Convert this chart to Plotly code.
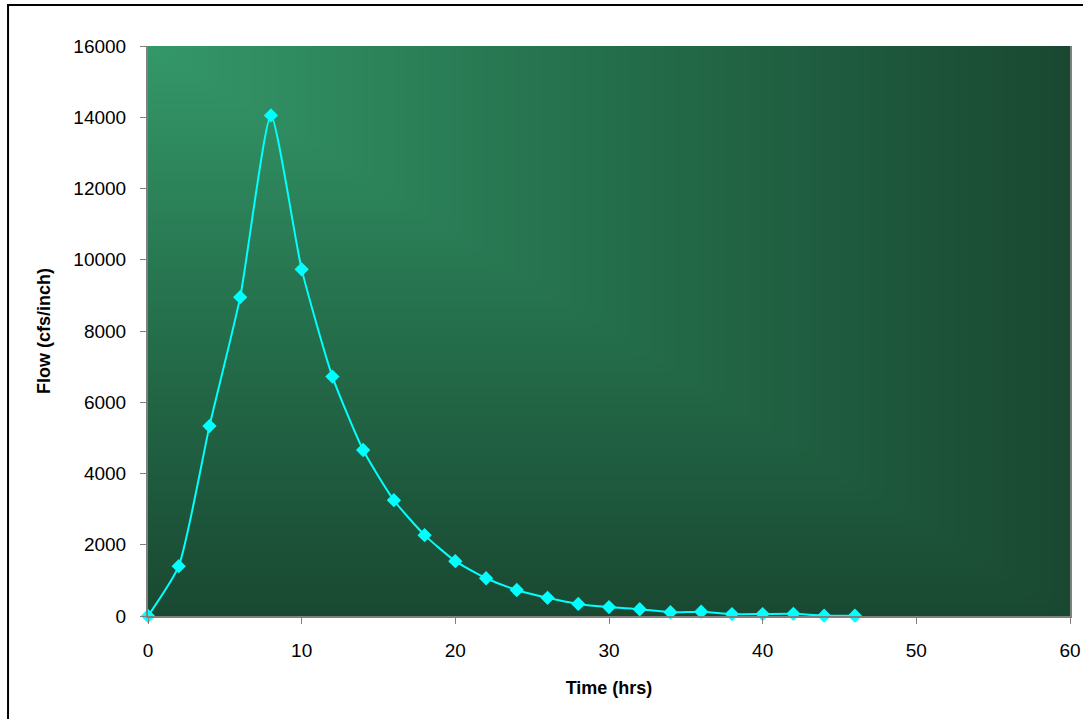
import numpy as np
import plotly.graph_objects as go

time_hrs = [0, 2, 4, 6, 8, 10, 12, 14, 16, 18, 20, 22, 24, 26, 28, 30, 32, 34, 36, 38, 40, 42, 44, 46]
flow = [0, 1400, 5330, 8950, 14050, 9730, 6720, 4660, 3250, 2270, 1540, 1060, 730, 510, 340, 250, 190, 105, 120, 55, 55, 60, 10, 10]

x_ticks = [0, 10, 20, 30, 40, 50, 60]
y_ticks = [0, 2000, 4000, 6000, 8000, 10000, 12000, 14000, 16000]
y_tick_text = [str(v) for v in y_ticks]
x_tick_text = [str(v) for v in x_ticks]

# background gradient (rectangular gradient from top-left corner)
gx = np.linspace(0, 60, 61)
gy = np.linspace(0, 16000, 41)
GX, GY = np.meshgrid(gx, gy)
gz = np.maximum(GX / 60.0, 1 - GY / 16000.0)

fig = go.Figure()
fig.add_trace(go.Heatmap(
    x=gx, y=gy, z=gz, zsmooth="best", showscale=False, hoverinfo="skip",
    colorscale=[[0, "rgb(52,152,105)"], [0.5, "rgb(36,110,75)"], [1, "rgb(25,72,49)"]],
    zmin=0, zmax=1,
))
fig.add_trace(go.Scatter(
    x=time_hrs, y=flow, mode="lines+markers",
    line=dict(color="#00FFFF", width=2, shape="spline", smoothing=0.55),
    marker=dict(symbol="diamond", size=11, color="#00FFFF"),
    showlegend=False, cliponaxis=False,
))

fam = "Liberation Sans, Arial, sans-serif"
axis_font = dict(family=fam, size=19, color="black")
fig.update_layout(
    width=1083, height=719,
    margin=dict(l=148, r=13, t=46, b=103),
    paper_bgcolor="white", plot_bgcolor="rgb(30,80,55)",
    showlegend=False,
    xaxis=dict(
        range=[0, 60], tickvals=x_ticks, ticktext=x_tick_text, ticks="outside", ticklen=6, tickcolor="#808080",
        showgrid=False, zeroline=False, showline=True, linecolor="#808080", linewidth=2,
        tickfont=axis_font, ticklabelstandoff=10, automargin=False,
        title=dict(text="<b>Time (hrs)</b>", font=dict(family=fam, size=18, color="black"), standoff=22),
    ),
    yaxis=dict(
        range=[0, 16000], tickvals=y_ticks, ticktext=y_tick_text, ticks="outside", ticklen=6, tickcolor="#808080",
        showgrid=False, zeroline=False, showline=True, linecolor="#808080", linewidth=2, mirror=True,
        tickfont=axis_font, ticklabelstandoff=10, automargin=False,
        title=dict(text="<b>Flow (cfs/inch)</b>", font=dict(family=fam, size=18, color="black"), standoff=18),
    ),
    shapes=[dict(type="rect", xref="paper", yref="paper", x0=-0.1518, x1=1.03, y0=-0.2, y1=1.0719,
                 line=dict(color="black", width=2), layer="below")],
)

fig.write_html("out.html")
